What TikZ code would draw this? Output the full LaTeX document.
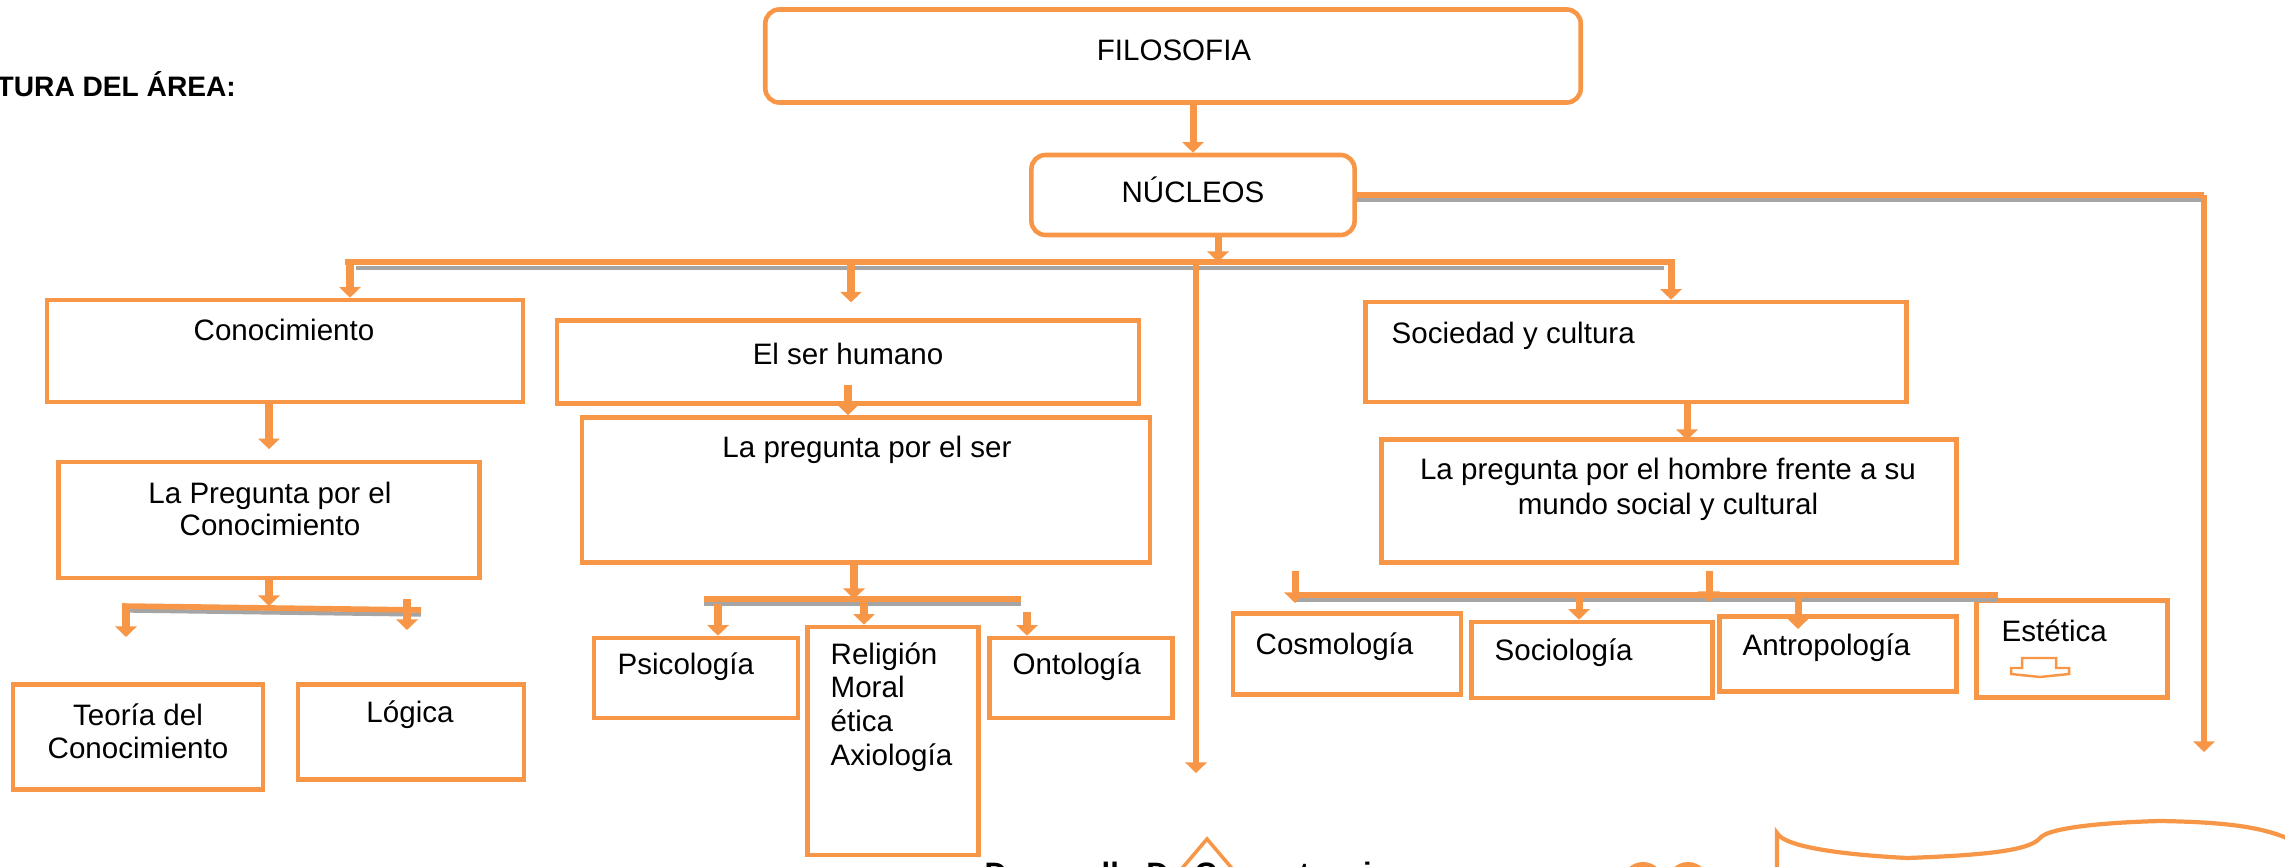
\documentclass[tikz,border=0pt]{standalone}
\usepackage{fontspec}
\setmainfont{Liberation Sans}
\usetikzlibrary{arrows.meta}
\definecolor{naranja}{HTML}{F79646}
\definecolor{gris}{HTML}{A5A5A5}
\tikzset{
  caja/.style={draw=naranja, line width=1.3pt, inner sep=0pt},
  redonda/.style={caja, rounded corners=4pt},
  txt/.style={font=\fontsize{8.4}{9.4}\selectfont, inner sep=0pt, align=center},
  izq/.style={txt, anchor=west, align=left},
  flecha/.style={draw=naranja, line width=2pt, -{Triangle[width=6pt,length=3pt]}},
  guia/.style={draw=naranja, line width=1.5pt, -{Triangle[width=6pt,length=3pt]}},
  barra/.style={draw=naranja, line width=1.6pt},
  sombra/.style={draw=gris, line width=1.2pt},
}
\begin{document}
\begin{tikzpicture}[x=0.01cm,y=-0.01cm]
      \useasboundingbox (0,0) rectangle (2285,867);
      % cajas
      \node[redonda, minimum width=8.15cm, minimum height=0.93cm] (filo) at (1173,56) {};
      \node[redonda, minimum width=3.23cm, minimum height=0.80cm] (nucl) at (1193,195) {};
      \node[caja, minimum width=4.76cm, minimum height=1.02cm] (cono) at (285,351) {};
      \node[caja, minimum width=4.21cm, minimum height=1.16cm] (pcono) at (269,520) {};
      \node[caja, minimum width=2.50cm, minimum height=1.05cm] (teoria) at (138,737) {};
      \node[caja, minimum width=2.26cm, minimum height=0.95cm] (logica) at (411,732) {};
      \node[caja, minimum width=5.82cm, minimum height=0.83cm] (ser) at (848,362) {};
      \node[caja, minimum width=5.68cm, minimum height=1.45cm] (pser) at (866,490) {};
      \node[caja, minimum width=2.04cm, minimum height=0.80cm] (psico) at (696,678) {};
      \node[caja, minimum width=1.71cm, minimum height=2.28cm] (relig) at (893,741) {};
      \node[caja, minimum width=1.83cm, minimum height=0.80cm] (onto) at (1081,678) {};
      \node[caja, minimum width=5.41cm, minimum height=1.00cm] (soc) at (1636,352) {};
      \node[caja, minimum width=5.75cm, minimum height=1.23cm] (phom) at (1669,501) {};
      \node[caja, minimum width=2.28cm, minimum height=0.81cm] (cosmo) at (1347,654) {};
      \node[caja, minimum width=2.41cm, minimum height=0.76cm] (socio) at (1592,660) {};
      \node[caja, minimum width=2.37cm, minimum height=0.75cm] (antro) at (1838,654) {};
      \node[caja, minimum width=1.91cm, minimum height=0.97cm] (estet) at (2072,649) {};
      % textos
      \node[txt, font=\fontsize{8}{9}\selectfont\bfseries, anchor=west] (area) at (-4,84) {TURA DEL ÁREA:};
      \node[txt] (filo-t) at (1174,50) {FILOSOFIA};
      \node[txt] (nucl-t) at (1193,190) {NÚCLEOS};
      \node[txt] (cono-t) at (284,330) {Conocimiento};
      \node[txt, font=\fontsize{8.4}{9.2}\selectfont] (pcono-t) at (270,509) {La Pregunta por el\\Conocimiento};
      \node[txt, font=\fontsize{8.4}{9.4}\selectfont] (teoria-t) at (138,731) {Teoría del\\Conocimiento};
      \node[txt] (logica-t) at (410,715) {Lógica};
      \node[txt] (ser-t) at (848,354) {El ser humano};
      \node[txt] (pser-t) at (867,450) {La pregunta por el ser};
      \node[izq] (psico-t) at (617,667) {Psicología};
      \node[izq, font=\fontsize{8.4}{9.6}\selectfont] (relig-t) at (830,707) {Religión\\Moral\\ética\\Axiología};
      \node[izq] (onto-t) at (1012,667) {Ontología};
      \node[izq] (soc-t) at (1391,336) {Sociedad y cultura};
      \node[txt, font=\fontsize{8.4}{10}\selectfont] (phom-t) at (1668,489) {La pregunta por el hombre frente a su\\mundo social y cultural};
      \node[izq] (cosmo-t) at (1255,647) {Cosmología};
      \node[izq] (socio-t) at (1494,653) {Sociología};
      \node[izq] (antro-t) at (1742,648) {Antropología};
      \node[izq] (estet-t) at (2001,631) {Estética};
      % puntos de las barras
      \coordinate (n1) at (1218,262);
      \coordinate (b1) at (345,262);
      \coordinate (b2) at (1675,262);
      \coordinate (c1) at (350,262);
      \coordinate (c2) at (851,262);
      \coordinate (c3) at (1196,262);
      \coordinate (c4) at (1671,262);
      \coordinate (c5) at (1196,773);
      \coordinate (d1) at (2204,195);
      \coordinate (d2) at (2204,752);
      \coordinate (k1) at (122,606);
      \coordinate (k2) at (421,610);
      \coordinate (k3) at (126,606);
      \coordinate (k4) at (126,637);
      \coordinate (k5) at (407,599);
      \coordinate (k6) at (407,630);
      \coordinate (s0) at (854,599);
      \coordinate (s1) at (704,599);
      \coordinate (s2) at (1021,599);
      \coordinate (s3) at (718,604);
      \coordinate (s4) at (864,599);
      \coordinate (s5) at (1027,612);
      \coordinate (h0) at (1687,440);
      \coordinate (h1) at (1295,595);
      \coordinate (h2) at (1998,595);
      \coordinate (h3) at (1295,571);
      \coordinate (h4) at (1295,603);
      \coordinate (h5) at (1709,571);
      \coordinate (h6) at (1709,602);
      \coordinate (h7) at (1579,595);
      \coordinate (h8) at (1798,595);
      \coordinate (h9) at (1798,629);
      \begin{scope}
        \draw[flecha] (filo.south -| nucl.north) to (nucl.north);
        \draw[sombra] ([yshift=-1.4pt]nucl.east) to ([yshift=-1.4pt]d1);
        \draw[barra] (nucl.east) to (d1);
        \draw[guia] (d1) to (d2);
        \draw[sombra] ([xshift=3pt,yshift=-1.6pt]b1) to ([xshift=-3pt,yshift=-1.6pt]b2);
        \draw[barra] (b1) to (b2);
        \draw[flecha] (nucl.south -| n1) to (n1);
        \draw[flecha] (c1) to (c1 |- cono.north);
        \draw[flecha, shorten >=4.5pt] (c2) to (c2 |- ser.north);
        \draw[flecha] (c4) to (c4 |- soc.north);
        \draw[guia] (c3) to (c5);
        \draw[flecha, shorten >=3pt] (cono.south -| pcono.north) to (pcono.north);
        \draw[flecha] (pcono.south) to (pcono.south |- k1);
        \draw[sombra] ([xshift=2pt,yshift=-1.3pt]k1) to ([yshift=-1.3pt]k2);
        \draw[barra] (k1) to (k2);
        \draw[flecha] (k3) to (k4);
        \draw[flecha] (k5) to (k6);
        \draw[flecha] ([yshift=6pt]ser.south) to (ser.south |- pser.north);
        \draw[flecha] (s0 |- pser.south) to (s0);
        \draw[sombra] ([yshift=-1.4pt]s1) to ([yshift=-1.4pt]s2);
        \draw[barra] (s1) to (s2);
        \draw[flecha] (s3) to (s3 |- psico.north);
        \draw[flecha] (s4) to (s4 |- relig.north);
        \draw[flecha] (s5) to (s5 |- onto.north);
        \draw[flecha] (h0 |- soc.south) to (h0);
        \draw[sombra] ([yshift=-1.4pt]h1) to ([yshift=-1.4pt]h2);
        \draw[barra] (h1) to (h2);
        \draw[flecha] (h3) to (h4);
        \draw[flecha] (h5) to (h6);
        \draw[flecha] (h7) to (h7 |- socio.north);
        \draw[flecha] (h8) to (h9);
      \end{scope}
      % figuras sueltas
      \draw[naranja, line width=0.7pt] (2022,668) -- (2022,658) -- (2056,658) -- (2056,668) -- (2069,668) -- (2069,674) -- (2040,677) -- (2011,674) -- (2011,668) -- cycle;
      \draw[naranja, line width=1pt] (1167,886) -- (1207,839) -- (1247,886);
      \fill[naranja] (1643,883) circle (0.21cm) (1688,883) circle (0.21cm);
      \draw[naranja, line width=1.2pt] (1777,900) -- (1777,833) .. controls (1785,848) and (1850,855) .. (1907,858) .. controls (1990,855) and (2030,850) .. (2040,838) .. controls (2050,826) and (2120,822) .. (2160,821) .. controls (2220,822) and (2265,826) .. (2295,842);
      \node[txt, font=\fontsize{8.8}{10}\selectfont\bfseries, anchor=base west] (des) at (984,884) {Desarrollo De Competencias};
    \end{tikzpicture}
\end{document}
